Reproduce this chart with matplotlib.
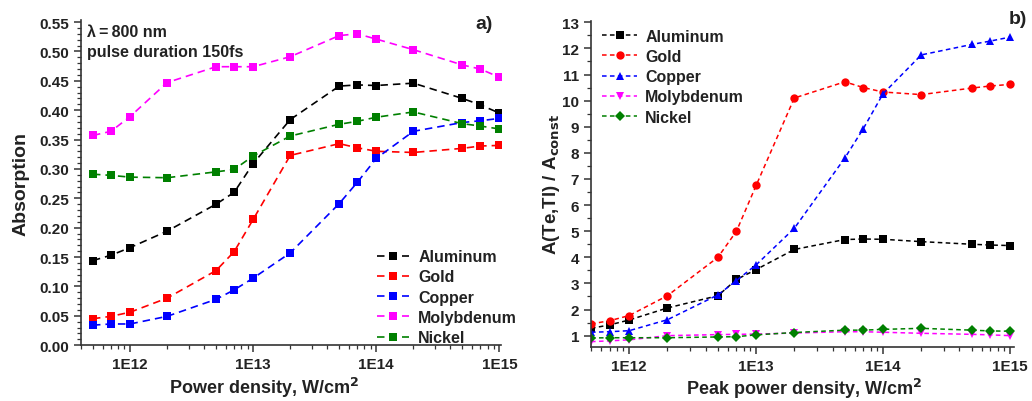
import matplotlib
matplotlib.use("Agg")
import matplotlib.pyplot as plt
from matplotlib.ticker import FixedLocator, FixedFormatter, MultipleLocator, LogLocator, NullFormatter

plt.rcParams['font.family'] = ['Liberation Sans', 'DejaVu Sans']
plt.rcParams['font.weight'] = 'bold'
plt.rcParams['mathtext.default'] = 'bf'

power = [5e11, 7e11, 1e12, 2e12, 5e12, 7e12, 1e13, 2e13, 5e13, 7e13, 1e14, 2e14, 5e14, 7e14, 1e15]

# Panel a) absorption
abs_aluminum = [0.144, 0.153, 0.166, 0.194, 0.240, 0.260, 0.309, 0.384, 0.441, 0.443, 0.442, 0.446, 0.420, 0.409, 0.395]
abs_gold = [0.045, 0.049, 0.056, 0.080, 0.127, 0.159, 0.214, 0.323, 0.343, 0.336, 0.330, 0.328, 0.335, 0.339, 0.340]
abs_copper = [0.034, 0.036, 0.036, 0.049, 0.078, 0.094, 0.114, 0.157, 0.241, 0.277, 0.318, 0.364, 0.379, 0.382, 0.386]
abs_molybdenum = [0.357, 0.364, 0.389, 0.447, 0.474, 0.474, 0.474, 0.491, 0.527, 0.530, 0.521, 0.503, 0.477, 0.470, 0.456]
abs_nickel = [0.291, 0.289, 0.286, 0.285, 0.295, 0.299, 0.322, 0.356, 0.376, 0.381, 0.388, 0.397, 0.377, 0.373, 0.368]

# Panel b) A(Te,Tl)/A_const
rat_aluminum = [1.28, 1.41, 1.60, 2.06, 2.53, 3.15, 3.53, 4.30, 4.68, 4.70, 4.69, 4.60, 4.50, 4.47, 4.45]
rat_gold = [1.45, 1.57, 1.77, 2.53, 4.00, 5.00, 6.75, 10.10, 10.72, 10.50, 10.33, 10.23, 10.48, 10.56, 10.62]
rat_copper = [1.13, 1.15, 1.19, 1.61, 2.56, 3.11, 3.71, 5.11, 7.80, 8.93, 10.26, 11.75, 12.15, 12.28, 12.43]
rat_molybdenum = [0.77, 0.80, 0.84, 1.00, 1.04, 1.05, 1.06, 1.10, 1.15, 1.15, 1.13, 1.09, 1.05, 1.03, 1.00]
rat_nickel = [0.91, 0.92, 0.92, 0.92, 0.95, 0.96, 1.03, 1.12, 1.21, 1.21, 1.24, 1.28, 1.21, 1.18, 1.17]

names = ['Aluminum', 'Gold', 'Copper', 'Molybdenum', 'Nickel']
colors = ['#000000', '#ff0000', '#0000ff', '#ff00ff', '#008000']
markers_b = ['s', 'o', '^', 'v', 'D']
xtick_vals = [1e12, 1e13, 1e14, 1e15]
xtick_labels = ['1E12', '1E13', '1E14', '1E15']

TXT = '#222222'

fig = plt.figure(figsize=(10.32, 4.02), dpi=100)
axA = fig.add_axes([0.0785, 0.139, 0.407, 0.808])
axB = fig.add_axes([0.5727, 0.134, 0.410, 0.812])

def style(ax):
    ax.set_xscale('log')
    for s in ['top', 'right']:
        ax.spines[s].set_visible(False)
    for s in ['left', 'bottom']:
        ax.spines[s].set_linewidth(1.2)
        ax.spines[s].set_color('#333333')
    ax.xaxis.set_major_locator(FixedLocator(xtick_vals))
    ax.xaxis.set_major_formatter(FixedFormatter(xtick_labels))
    ax.xaxis.set_minor_locator(LogLocator(base=10, subs=range(2, 10)))
    ax.xaxis.set_minor_formatter(NullFormatter())
    ax.tick_params(which='major', direction='out', length=5, width=1.1, labelsize=11, colors='#333333', labelcolor=TXT)
    ax.tick_params(which='minor', direction='out', length=3, width=0.9, colors='#333333')
    for lab in ax.get_xticklabels() + ax.get_yticklabels():
        lab.set_fontweight('bold')

# Panel a
series_a = [abs_aluminum, abs_gold, abs_copper, abs_molybdenum, abs_nickel]
for name, col, ys in zip(names, colors, series_a):
    axA.plot(power, ys, linestyle=(0, (4.5, 3)), color=col, lw=1.2, marker='s', markersize=5.5,
             markeredgewidth=0, label=name)
axA.set_xlim(4e11, 1.03e15)
axA.set_ylim(0, 0.553)
axA.yaxis.set_major_locator(MultipleLocator(0.05))
axA.yaxis.set_minor_locator(MultipleLocator(0.01))
axA.yaxis.set_major_formatter(matplotlib.ticker.FormatStrFormatter('%.2f'))
style(axA)
axA.set_ylabel('Absorption', fontsize=14, fontweight='bold', color=TXT)
axA.yaxis.set_label_coords(-0.122, 0.5)
axA.set_xlabel('Power density, W/cm$^2$', fontsize=13, fontweight='bold', color=TXT)
axA.xaxis.set_label_coords(0.435, -0.092)
axA.text(0.014, 0.966, 'λ\u2009=\u2009800 nm', transform=axA.transAxes, fontsize=11.5, fontweight='bold', va='center', ha='left', color=TXT)
axA.text(0.014, 0.904, 'pulse duration 150fs', transform=axA.transAxes, fontsize=11.5, fontweight='bold', va='center', ha='left', color=TXT)
axA.text(0.98, 0.99, 'a)', transform=axA.transAxes, fontsize=14, fontweight='bold', va='center', ha='right', color=TXT)
legA = axA.legend(loc='lower right', bbox_to_anchor=(1.065, -0.035), frameon=False, fontsize=11.5,
                  handlelength=2.0, handletextpad=0.6, labelspacing=0.33, borderaxespad=0.3)
for t in legA.get_texts():
    t.set_fontweight('bold')
    t.set_color(TXT)

# Panel b
series_b = [rat_aluminum, rat_gold, rat_copper, rat_molybdenum, rat_nickel]
for name, col, mk, ys in zip(names, colors, markers_b, series_b):
    ms = 6 if mk != 'D' else 5.5
    axB.plot(power, ys, linestyle=(0, (3, 2.2)), color=col, lw=1.1, marker=mk, markersize=ms,
             markeredgewidth=0, label=name)
axB.set_xlim(5e11, 1.08e15)
axB.set_ylim(0.56, 13.06)
axB.yaxis.set_major_locator(MultipleLocator(1))
axB.yaxis.set_minor_locator(MultipleLocator(0.5))
style(axB)
axB.set_ylabel('A(Te,Tl) / A$_{\\mathbf{const}}$', fontsize=13.5, fontweight='bold', color=TXT)
axB.yaxis.set_label_coords(-0.068, 0.5)
axB.set_xlabel('Peak power density, W/cm$^2$', fontsize=13, fontweight='bold', color=TXT)
axB.xaxis.set_label_coords(0.503, -0.088)
axB.text(1.03, 1.006, 'b)', transform=axB.transAxes, fontsize=14, fontweight='bold', va='center', ha='right', color=TXT)
legB = axB.legend(loc='upper left', bbox_to_anchor=(0.0, 1.01), frameon=False, fontsize=11.5,
                  handlelength=2.2, handletextpad=0.5, labelspacing=0.33, borderaxespad=0.3)
for t in legB.get_texts():
    t.set_fontweight('bold')
    t.set_color(TXT)

fig.savefig('out.png', dpi=100)
